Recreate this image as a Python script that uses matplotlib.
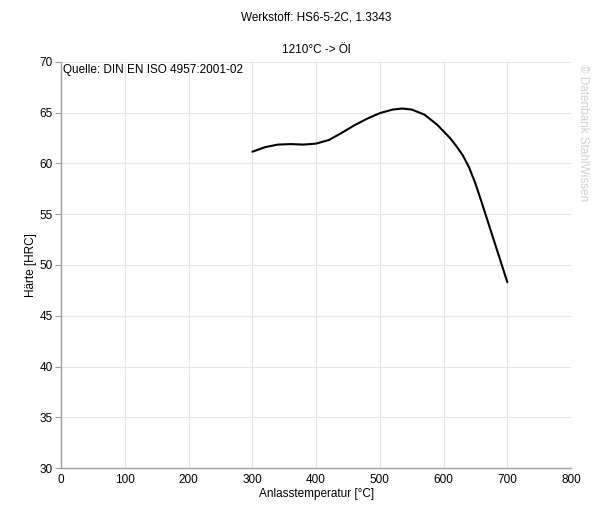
import matplotlib
matplotlib.use("Agg")
import matplotlib.pyplot as plt

plt.rcParams['font.family'] = ['Liberation Sans', 'DejaVu Sans']

# values
temperatur = [300, 320, 340, 360, 380, 400, 420, 440, 460, 480, 500, 520, 535,
              550, 570, 590, 610, 620, 630, 640, 650, 660, 680, 700]
haerte = [61.15, 61.6, 61.85, 61.9, 61.85, 61.95, 62.3, 63.0, 63.75, 64.4, 64.95,
          65.3, 65.4, 65.3, 64.8, 63.8, 62.5, 61.7, 60.8, 59.6, 58.0, 56.1, 52.2, 48.3]

x_ticks = [0, 100, 200, 300, 400, 500, 600, 700, 800]
y_ticks = [30, 35, 40, 45, 50, 55, 60, 65, 70]

fig = plt.figure(figsize=(6.05, 5.11), dpi=100)
ax = fig.add_axes([0.101, 0.084, 0.843, 0.795])

ax.plot(temperatur, haerte, color='black', linewidth=1.5,
        solid_capstyle='round', solid_joinstyle='round')

ax.set_xlim(0, 800)
ax.set_ylim(30, 70)
ax.set_xticks(x_ticks)
ax.set_yticks(y_ticks)
ax.grid(True, color='#e6e6e6', linewidth=0.8)
ax.set_axisbelow(True)

for side in ['top', 'right']:
    ax.spines[side].set_visible(False)
for side in ['left', 'bottom']:
    ax.spines[side].set_color('#a0a0a0')
    ax.spines[side].set_linewidth(1.0)

ax.tick_params(axis='y', length=4, color='#a0a0a0', labelsize=8.5, pad=2)
ax.tick_params(axis='x', length=0, labelsize=8.5, pad=4)

ax.set_xlabel('Anlasstemperatur [°C]', fontsize=8.5, labelpad=2)
ax.set_ylabel('Härte [HRC]', fontsize=8.5)
ax.yaxis.set_label_coords(-0.048, 0.5)

fig.text(0.522, 0.965, 'Werkstoff: HS6-5-2C, 1.3343', ha='center', va='center', fontsize=8.5)
fig.text(0.522, 0.902, '1210°C -> Öl', ha='center', va='center', fontsize=8.5)

ax.text(0.004, 0.995, 'Quelle: DIN EN ISO 4957:2001-02', transform=ax.transAxes,
        ha='left', va='top', fontsize=8.5)

fig.text(0.953, 0.875, '© Datenbank StahlWissen', rotation=-90, ha='left', va='top',
         fontsize=8.5, color='#d0d0d0')

fig.savefig('out.png', dpi=100)
